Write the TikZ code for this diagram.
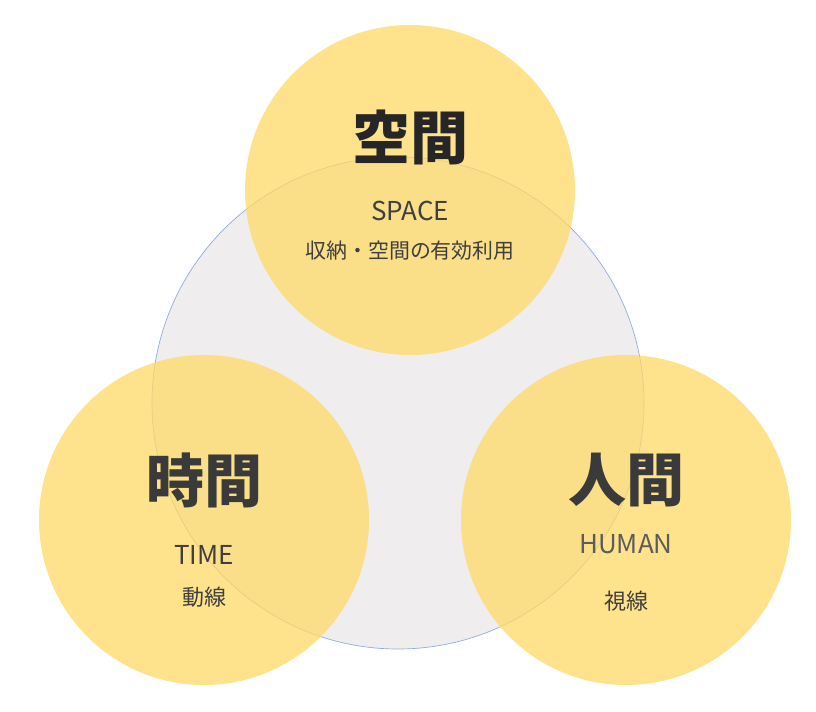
\documentclass[tikz,border=0pt]{standalone}
\usepackage{fontspec}
\setmainfont{Noto Sans CJK JP}
\definecolor{ringfill}{HTML}{EFEDEE}
\definecolor{ringline}{HTML}{8FAADC}
\definecolor{petalfill}{HTML}{FFD966}
\definecolor{headcol}{HTML}{3A3A3A}
\definecolor{textcol}{HTML}{3F3F3F}
\tikzset{
  petal/.style={circle, fill=petalfill, fill opacity=0.75, minimum size=247.5pt, inner sep=0pt},
  headtext/.style={font=\fontsize{43.5}{45}\selectfont\bfseries, text=headcol},
  entext/.style={font=\fontsize{19.5}{21}\selectfont, text=textcol},
  jptext/.style={font=\fontsize{15.7}{18}\selectfont, text=textcol}
}

\begin{document}
\begin{tikzpicture}[x=0.75pt, y=-0.75pt]

  % Page frame.
  \useasboundingbox (0,0) rectangle (816,712);

  % Background ring.
  \node[circle, fill=ringfill, draw=ringline, line width=0.5pt,
    minimum size=369pt, inner sep=0pt] (ring) at (398,403) {};

  % Three petals.
  \node[petal] (space) at (410,190) {};
  \node[petal] (time)  at (204,520) {};
  \node[petal] (human) at (626,520) {};

  % Space labels.
  \node[headtext, text=black!85] (spacehead) at (410,137) {空間};
  \node[entext] (spaceen) at (410,211) {SPACE};
  \node[jptext] (spacejp) at (410,251) {収納・空間の有効利用};

  % Time labels.
  \node[headtext] (timehead) at (204,480) {時間};
  \node[entext] (timeen) at (204,555) {TIME};
  \node[jptext, font=\fontsize{16.5}{18}\selectfont] (timejp) at (204,597) {動線};

  % Human labels.
  \node[headtext] (humanhead) at (626,480) {人間};
  \node[entext, text=textcol!85] (humanen) at (626,544) {HUMAN};
  \node[jptext, font=\fontsize{16.5}{18}\selectfont] (humanjp) at (626,601) {視線};

\end{tikzpicture}
\end{document}
